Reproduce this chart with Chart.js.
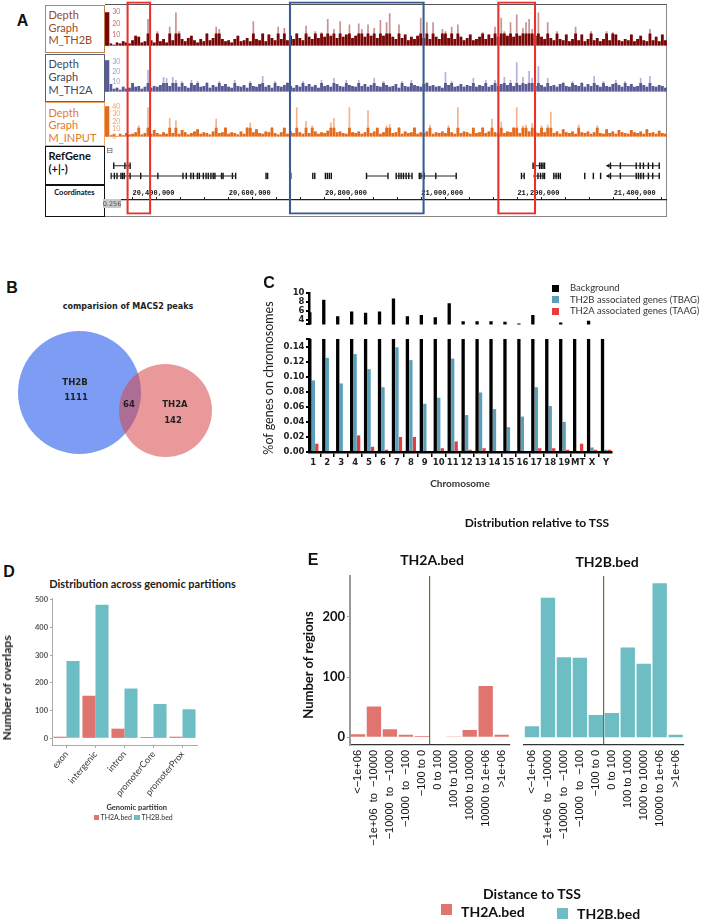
<!DOCTYPE html>
<html>
<head>
<meta charset="utf-8">
<script src="https://cdn.jsdelivr.net/npm/chart.js@4.4.1/dist/chart.umd.min.js"></script>
<style>
  body { margin: 0; background: #fff; }
  #fig { position: relative; width: 706px; height: 921px; overflow: hidden; background: #fff; }
  #fig canvas { position: absolute; }
</style>
</head>
<body>
<div id="fig"></div>
<script>
// ---------- Panel A: depth tracks (bins across the window) ----------
const th2bDepth = [
  2,1,3,2,4,3,2,5,9,8,3,4,24,5,3,13,4,6,3,17,
  5,30,13,6,4,7,9,5,3,6,4,11,5,7,17,15,6,4,5,3,
  6,9,4,5,7,4,22,6,5,11,4,10,7,5,17,6,16,5,9,6,
  11,7,5,18,8,6,13,7,12,8,24,9,15,7,22,8,10,19,7,9,
  20,15,8,19,9,16,7,23,9,21,29,8,6,19,7,10,5,8,6,9,
  25,7,21,6,21,8,6,15,13,7,17,6,19,8,5,7,10,5,6,8,
  12,6,10,7,17,8,25,13,9,21,8,28,9,16,21,24,15,9,30,8,
  6,21,7,5,13,6,5,10,4,6,17,5,10,4,6,13,5,7,4,6,
  13,5,12,10,5,4,6,5,10,4,6,9,5,4,15,5,8,4,10,5
];
const th2aDepth = [
  8,3,4,2,5,3,4,9,5,6,3,5,22,4,6,5,7,15,14,6,
  15,12,5,11,6,4,12,7,11,5,6,10,4,7,5,11,6,8,5,4,
  12,6,5,7,4,11,6,5,8,16,5,7,4,11,6,5,7,10,6,4,
  7,5,11,6,8,5,7,4,12,6,7,5,14,8,6,5,12,7,6,5,
  12,6,8,5,7,14,6,5,11,7,5,6,8,4,11,6,5,12,7,6,
  5,8,10,6,7,5,6,4,20,7,11,5,6,8,5,7,6,14,5,7,
  6,12,5,7,12,6,8,15,7,12,6,30,7,15,8,21,14,6,26,7,
  5,14,6,7,5,8,10,6,5,11,7,6,10,5,8,6,16,7,5,11,
  6,5,8,12,7,5,11,6,8,5,6,14,7,5,16,6,5,7,6,4
];
const inputDepth = [
  2,3,1,4,2,5,3,4,6,15,3,5,39,4,9,5,3,6,4,25,
  5,22,4,9,6,3,5,7,10,4,6,5,3,7,24,5,6,13,4,6,
  5,3,7,4,13,19,6,10,5,4,7,6,13,5,3,6,12,4,7,5,
  39,6,4,21,5,15,7,4,6,5,8,19,25,6,7,5,4,39,6,5,
  7,4,6,35,5,7,12,4,6,15,17,5,6,13,4,7,5,6,13,4,
  6,5,7,16,4,6,5,7,5,15,6,4,39,5,7,6,4,12,5,6,
  13,5,7,24,6,4,20,5,7,6,13,39,5,15,16,7,18,6,5,15,
  6,16,33,5,7,4,10,6,5,7,4,16,6,5,7,4,6,15,5,4,
  10,5,7,4,9,6,5,4,9,6,5,7,4,10,5,6,4,8,5,4
];
const th2bTicks = [10, 20, 30];
const th2aTicks = [10, 20, 30];
const inputTicks = [0, 10, 20, 30, 40];

// genomic window in kb
const windowStart = 20351.8;
const windowEnd = 21510.9;
const coordLabelStep = 200;

// RefGene models (kb), row 1 = upper line, row 2 = lower line
const geneStart = [20358.8, 21240.6, 21398.6, 20347.6, 20890.4, 20952.8, 21001.4, 21216.2, 21240.6, 21284.2, 21398.6];
const geneEnd   = [20393.3, 21264.7, 21507.4, 20615.2, 20935.5, 20986.0, 21079.0, 21221.9, 21264.7, 21298.0, 21507.4];
const geneRow   = [1, 1, 1, 2, 2, 2, 2, 2, 2, 2, 2];
const exonPos = [
  20358.8, 20382.3, 20387.9, 20393.3, 21240.6, 21254.3, 21257.8, 21261.4, 21264.7,
  21403.4, 21424.2, 21457.5, 21465.8, 21472.7, 21483.1, 21492.2, 21505.9,
  20353.2, 20360.1, 20365.7, 20374.0, 20377.5, 20380.9, 20393.3, 20415.6, 20451.6,
  20504.4, 20511.3, 20521.0, 20526.4, 20534.8, 20538.9, 20547.2, 20552.9, 20557.6,
  20563.2, 20568.0, 20571.6, 20585.5, 20588.8, 20608.4, 20615.2, 20679.1, 20682.4,
  20731.1, 20777.4, 20781.6, 20803.9, 20808.0, 20812.2, 20816.3, 20890.4, 20935.5,
  20952.8, 20958.4, 20963.2, 20968.1, 20973.6, 20979.2, 20986.0, 21001.4, 21004.8,
  21011.8, 21036.0, 21079.0, 21216.2, 21221.9, 21243.9, 21251.0, 21256.4, 21261.4,
  21264.7, 21284.2, 21289.0, 21293.8, 21298.0, 21349.3, 21367.4, 21382.6, 21403.4,
  21424.2, 21457.5, 21462.3, 21467.2, 21472.7, 21483.1, 21492.2, 21505.9
];
const exonRow = exonPos.map((p, i) => (i < 17 ? 1 : 2));
const strandPos = [21398.6, 21398.6];
const strandRow = [1, 2];

// highlighted regions (kb)
const roiStart = [20387.9, 20725.5, 21158.6];
const roiEnd   = [20438.5, 21006.8, 21238.5];
const roiColor = ['#e8312f', '#3b5b92', '#e8312f'];

// ---------- Panel B: Venn ----------
const vennSets = ['TH2B', 'TH2A'];
const vennOnly = [1111, 142];
const vennShared = 64;

// ---------- Panel C ----------
const chromosomes = ['1','2','3','4','5','6','7','8','9','10','11','12','13','14','15','16','17','18','19','MT','X','Y'];
const background = [5.7, 8.5, 4.8, 5.9, 5.6, 5.9, 8.8, 4.8, 5.1, 4.6, 7.7, 3.7, 3.7, 3.7, 3.6, 3.2, 5.1, 2.7, 3.4, 1.2, 3.8, 2.0];
const tbag = [0.095, 0.125, 0.091, 0.130, 0.110, 0.086, 0.139, 0.122, 0.064, 0.072, 0.124, 0.049, 0.079, 0.057, 0.033, 0.047, 0.086, 0.061, 0.040, 0, 0.006, 0.003];
const taag = [0.011, 0, 0, 0.022, 0.007, 0.003, 0.020, 0.020, 0, 0.005, 0.014, 0.003, 0.005, 0, 0, 0, 0.005, 0.005, 0.003, 0.011, 0.003, 0.003];
const upperTicks = [3, 4, 6, 8, 10];
const lowerTicks = [0, 0.02, 0.04, 0.06, 0.08, 0.10, 0.12, 0.14, 0.15];

// ---------- Panel D ----------
const partitions = ['exon', 'intergenic', 'intron', 'promoterCore', 'promoterProx'];
const partTH2A = [6, 154, 35, 5, 6];
const partTH2B = [279, 483, 180, 124, 105];
const partTicks = [0, 100, 200, 300, 400, 500];

// ---------- Panel E ----------
const tssBins = ['<\u22121e+06', '\u22121e+06  to  \u221210000', '\u221210000  to  \u22121000', '\u22121000  to  \u2212100', '\u2212100 to 0',
                 '0 to 100', '100 to 1000', '1000 to 10000', '10000 to 1e+06', '>1e+06'];
const tssTH2A = [5, 51, 13, 4, 2, 0, 1, 12, 85, 4];
const tssTH2B = [18, 232, 133, 132, 37, 40, 149, 122, 256, 4];
const tssTicks = [0, 100, 200];

const RED = '#e0746e';
const TEAL = '#6cbec4';

// ---------- helpers ----------
const fig = document.getElementById('fig');
Chart.defaults.font.family = "Lato, 'Open Sans', sans-serif";
Chart.defaults.color = '#333';
const common = {
  responsive: false, animation: false, devicePixelRatio: 1,
  plugins: { legend: { display: false }, tooltip: { enabled: false } }
};

function addCanvas(x, y, w, h) {
  const c = document.createElement('canvas');
  c.width = w; c.height = h;
  c.style.left = x + 'px'; c.style.top = y + 'px';
  c.style.width = w + 'px'; c.style.height = h + 'px';
  fig.appendChild(c);
  return c;
}
function label(text, x, y, font, color, align, rotate) {
  const d = document.createElement('div');
  d.textContent = text;
  let tf = align === 'left' ? 'translate(0,-50%)' : 'translate(-50%,-50%)';
  if (rotate) tf += ' rotate(' + rotate + 'deg)';
  d.style.cssText = 'position:absolute;z-index:6;left:' + x + 'px;top:' + y + 'px;font:' + font +
    ';color:' + color + ';white-space:pre;line-height:1;transform:' + tf + ';';
  fig.appendChild(d);
  return d;
}
function box(x, y, w, h, css) {
  const d = document.createElement('div');
  d.style.cssText = 'position:absolute;box-sizing:border-box;left:' + x + 'px;top:' + y + 'px;width:' + w + 'px;height:' + h + 'px;' + css;
  fig.appendChild(d);
  return d;
}
function swatch(cx, cy, s, color) {
  return box(cx - s / 2, cy - s / 2, s, s, 'background:' + color + ';');
}

// ================= Panel A =================
label('A', 22.5, 21, "bold 16px 'Liberation Sans', Arial, sans-serif", '#111');

box(45, 4.7, 60, 48.6, 'border:1px solid #c0814c;');
box(45, 54, 60, 47.7, 'border:1px solid #55607a;');
box(45, 101.7, 60, 44, 'border:1px solid #f0a868;');
box(45, 145.7, 60, 39.3, 'border:1.5px solid #111;');
box(45, 185, 60, 32.3, 'border:1.5px solid #111;');
box(105, 4, 562, 213.3, 'border-top:1.5px solid #555;border-right:1px solid #888;border-bottom:1px solid #888;');

const trackFont = "11px Lato, sans-serif";
[['Depth', 14], ['Graph', 26.7], ['M_TH2B', 39.3]].forEach(l => label(l[0], 48.5, l[1], trackFont, '#9a4a1c', 'left'));
[['Depth', 63.3], ['Graph', 76.3], ['M_TH2A', 89.3]].forEach(l => label(l[0], 48.5, l[1], trackFont, '#3d4860', 'left'));
[['Depth', 112], ['Graph', 124.3], ['M_INPUT', 136.7]].forEach(l => label(l[0], 48.5, l[1], trackFont, '#e27a2c', 'left'));
label('RefGene', 48.5, 155.3, "bold 11px Lato, sans-serif", '#111', 'left');
label('(+|-)', 48.5, 167.7, "bold 11px Lato, sans-serif", '#111', 'left');
label('Coordinates', 74.4, 192.7, "bold 7.5px Lato, sans-serif", '#111');
label('\u229f', 109.5, 150.7, "8px 'DejaVu Sans', sans-serif", '#444');

function depthTrack(top, height, values, yMax, tickList, dark, light, tickColor, cap) {
  const cv = addCanvas(105, top, 562, height);
  new Chart(cv, {
    type: 'bar',
    data: {
      labels: values.map((v, i) => i),
      datasets: [
        { data: values.map(v => Math.min(v, cap)), backgroundColor: dark, grouped: false, order: 0,
          barPercentage: 0.92, categoryPercentage: 1, clip: 0 },
        { data: values, backgroundColor: light, grouped: false, order: 1,
          barPercentage: 0.55, categoryPercentage: 1, clip: 0 }
      ]
    },
    options: Object.assign({}, common, {
      layout: { padding: 0 },
      scales: {
        x: { display: false },
        y: {
          min: 0, max: yMax, backgroundColor: dark,
          afterFit: s => { s.width = 4.3; },
          afterBuildTicks: s => { s.ticks = tickList.map(v => ({ value: v })); },
          grid: { display: false, drawTicks: false },
          border: { display: false },
          ticks: { mirror: true, autoSkip: false, padding: 3, color: tickColor, font: { size: 7 } }
        }
      }
    })
  });
}
depthTrack(5, 48, th2bDepth, 30, th2bTicks, '#7a0707', '#c99393', '#c46a6a', 11);
depthTrack(53, 46, th2aDepth, 32, th2aTicks, '#5a5a96', '#b4b4da', '#9a9ad0', 9);
depthTrack(99, 45, inputDepth, 40.5, inputTicks, '#e46a1c', '#f5b58a', '#f0a060', 12);

// RefGene track
(function () {
  const cv = addCanvas(105, 147, 562, 38);
  const ds = geneStart.map((s, i) => ({
    data: [{ x: s, y: geneRow[i] }, { x: geneEnd[i], y: geneRow[i] }],
    showLine: true, borderColor: '#222', borderWidth: 1, pointRadius: 0
  }));
  ds.push({
    data: exonPos.map((x, i) => ({ x: x, y: exonRow[i] })),
    pointStyle: 'line', pointRotation: 90, pointRadius: 3.2,
    pointBorderColor: '#111', pointBorderWidth: 1.4, pointBackgroundColor: '#111'
  });
  ds.push({
    data: strandPos.map((x, i) => ({ x: x, y: strandRow[i] })),
    pointStyle: 'triangle', pointRotation: -90, pointRadius: 2.4,
    pointBackgroundColor: '#111', pointBorderWidth: 0
  });
  new Chart(cv, {
    type: 'scatter',
    data: { datasets: ds },
    options: Object.assign({}, common, {
      layout: { padding: { left: 4.3, right: 0, top: 0, bottom: 0 } },
      scales: {
        x: { type: 'linear', min: windowStart, max: windowEnd, display: false },
        y: { type: 'linear', min: -0.3, max: 2.35, reverse: true, display: false }
      }
    })
  });
})();

// Coordinates axis
(function () {
  const cv = addCanvas(105, 186, 562, 26);
  new Chart(cv, {
    type: 'scatter',
    data: { datasets: [{ data: [] }] },
    options: Object.assign({}, common, {
      layout: { padding: { left: 4.3, right: 0, top: 0, bottom: 0 } },
      scales: {
        x: {
          type: 'linear', position: 'top', min: windowStart, max: windowEnd,
          afterFit: s => { s.height = 14; },
          grid: { drawOnChartArea: false, drawTicks: true, tickLength: 3, color: '#222' },
          border: { display: true, color: '#222', width: 1.2 },
          ticks: {
            stepSize: 50, includeBounds: false, autoSkip: false, maxRotation: 0, align: 'start', padding: 0,
            color: '#111', font: { family: "'Liberation Mono', monospace", size: 7, weight: 'bold' },
            callback: v => (Math.round(v) % coordLabelStep === 0 ? (Math.round(v) * 1000).toLocaleString('en-US') : '')
          }
        },
        y: { display: false, min: 0, max: 1 }
      }
    })
  });
})();
box(103, 199, 18, 9, 'background:#c9c9c9;');
label('0.256', 112, 203.5, "6.5px 'DejaVu Sans', sans-serif", '#555');

// region boxes over the tracks
(function () {
  const cv = addCanvas(105, 0, 562, 217);
  cv.style.zIndex = 5;
  new Chart(cv, {
    type: 'bar',
    data: {
      labels: ['roi'],
      datasets: roiStart.map((s, i) => ({
        data: [[s, roiEnd[i]]], backgroundColor: 'rgba(0,0,0,0)', borderColor: roiColor[i],
        borderWidth: 1.6, borderSkipped: false, grouped: false, barPercentage: 1, categoryPercentage: 1
      }))
    },
    options: Object.assign({}, common, {
      indexAxis: 'y',
      layout: { padding: { left: 4.3, right: 0, top: 1.5, bottom: 2.5 } },
      scales: {
        x: { type: 'linear', min: windowStart, max: windowEnd, display: false },
        y: { display: false }
      }
    })
  });
})();

// ================= Panel B =================
label('B', 12, 288.3, "bold 16px 'Liberation Sans', Arial, sans-serif", '#111');
label('comparision of MACS2 peaks', 128, 307, "bold 8px 'DejaVu Sans', sans-serif", '#222');
// each set drawn as a single full-circle pie; centre / radius are layout only
const vennCircles = [{ cx: 79, cy: 392.7, r: 61.7 }, { cx: 165.7, cy: 410, r: 46.7 }];
const vennFill = ['rgb(125,157,244)', 'rgba(215,70,70,0.55)'];
vennSets.forEach((name, i) => {
  const c = vennCircles[i];
  const s = Math.round(c.r * 2);
  new Chart(addCanvas(c.cx - s / 2, c.cy - s / 2, s, s), {
    type: 'pie',
    data: { labels: [name], datasets: [{ data: [vennOnly[i] + vennShared], backgroundColor: vennFill[i],
                                         borderWidth: 0, hoverOffset: 0, offset: 0 }] },
    options: Object.assign({}, common, { layout: { padding: 0 } })
  });
});
const vennFont = "bold 8.5px 'DejaVu Sans', sans-serif";
label(vennSets[0], 75, 382.3, vennFont, '#222');
label(String(vennOnly[0]), 76, 397.3, vennFont, '#222');
label(String(vennShared), 129, 404.3, vennFont, '#222');
label(vennSets[1], 175, 404.3, vennFont, '#222');
label(String(vennOnly[1]), 173, 420, vennFont, '#222');

// ================= Panel C =================
label('C', 269, 283.3, "bold 16px 'Liberation Sans', Arial, sans-serif", '#111');
label('%of genes on chromosomes', 268.5, 378, "12.5px Lato, sans-serif", '#222', 'center', -90);
label('Chromosome', 460, 482.7, "bold 10px Lato, sans-serif", '#333');

const cFont = { family: "'DejaVu Sans', sans-serif", size: 8.5, weight: 'bold' };
function chromDatasets() {
  return [
    { data: background.map((v, i) => ({ x: i, y: v })), backgroundColor: '#000' },
    { data: tbag.map((v, i) => ({ x: i, y: v })), backgroundColor: '#5b9fba' },
    { data: taag.map((v, i) => ({ x: i, y: v })), backgroundColor: '#e63c3c' }
  ].map(d => Object.assign(d, { barPercentage: 0.95, categoryPercentage: 0.75, clip: 0 }));
}
function chromX(show) {
  return {
    type: 'linear', min: -0.31, max: 21.43, display: show, offset: false,
    afterBuildTicks: s => { s.ticks = chromosomes.map((c, i) => ({ value: i })); },
    afterFit: s => { if (show) s.height = 23; },
    grid: { drawOnChartArea: false, drawTicks: true, tickLength: 5, color: '#000', lineWidth: 1.5 },
    border: { display: true, color: '#000', width: 2.5 },
    ticks: { autoSkip: false, maxRotation: 0, padding: 1, color: '#222', font: cFont,
             callback: v => chromosomes[v] !== undefined ? chromosomes[v] : '' }
  };
}
function chromY(min, max, tickList, fmt) {
  return {
    min: min, max: max,
    afterFit: s => { s.width = 49; },
    afterBuildTicks: s => { s.ticks = tickList.map(v => ({ value: v })); },
    grid: { drawOnChartArea: false, drawTicks: true, tickLength: 3, color: '#000', lineWidth: 2 },
    border: { display: true, color: '#000', width: 2.5 },
    ticks: { autoSkip: false, padding: 1.5, color: '#222', font: cFont, callback: fmt }
  };
}
new Chart(addCanvas(260, 283, 360, 48), {
  type: 'bar',
  data: { datasets: chromDatasets() },
  options: Object.assign({}, common, {
    layout: { padding: { top: 10, right: 8, bottom: 2, left: 0 } },
    scales: { x: chromX(false), y: chromY(3, 10, upperTicks, v => (v === 3 ? '' : String(v))) }
  })
});
new Chart(addCanvas(260, 330, 360, 145), {
  type: 'bar',
  data: { datasets: chromDatasets() },
  options: Object.assign({}, common, {
    layout: { padding: { top: 9, right: 8, bottom: 0, left: 0 } },
    scales: { x: chromX(true), y: chromY(0, 0.15, lowerTicks, v => (v === 0.15 ? '' : v.toFixed(2))) }
  })
});
const legC = [['Background', '#000', 288.3], ['TH2B associated genes (TBAG)', '#5b9fba', 299.6], ['TH2A associated genes (TAAG)', '#e63c3c', 311]];
legC.forEach(l => {
  swatch(555.5, l[2], 7, l[1]);
  label(l[0], 570, l[2], "9.5px Lato, sans-serif", '#333', 'left');
});

// ================= Panel D =================
label('D', 9, 572, "bold 16px 'Liberation Sans', Arial, sans-serif", '#111');
label('Distribution across genomic partitions', 142.5, 583, "bold 11px Lato, sans-serif", '#222');
label('Number of overlaps', 7, 688, "bold 12px Lato, sans-serif", '#222', 'center', -90);
new Chart(addCanvas(0, 590, 202, 215), {
  type: 'bar',
  data: {
    labels: partitions,
    datasets: [
      { label: 'TH2A.bed', data: partTH2A, backgroundColor: RED },
      { label: 'TH2B.bed', data: partTH2B, backgroundColor: TEAL }
    ].map(d => Object.assign(d, { categoryPercentage: 0.9, barPercentage: 1 }))
  },
  options: Object.assign({}, common, {
    layout: { padding: { top: 8, right: 5, bottom: 0, left: 0 } },
    scales: {
      x: {
        afterFit: s => { s.height = 60; },
        grid: { drawOnChartArea: false, drawTicks: true, tickLength: 3, color: '#aaa', offset: false },
        border: { display: true, color: '#aaa', width: 1 },
        ticks: { autoSkip: false, minRotation: 50, maxRotation: 50, padding: 1, color: '#333', font: { size: 9 } }
      },
      y: {
        min: -24, max: 507,
        afterFit: s => { s.width = 52; },
        afterBuildTicks: s => { s.ticks = partTicks.map(v => ({ value: v })); },
        grid: { drawOnChartArea: false, drawTicks: true, tickLength: 2, color: '#aaa' },
        border: { display: true, color: '#aaa', width: 1 },
        ticks: { autoSkip: false, padding: 2, color: '#555', font: { size: 7.5, weight: 'bold' } }
      }
    }
  })
});
label('Genomic partition', 136.7, 807.7, "bold 7.5px Lato, sans-serif", '#333');
swatch(96.5, 817.3, 5.5, RED);
label('TH2A.bed', 100.5, 817.3, "7px Lato, sans-serif", '#333', 'left');
swatch(137, 817.3, 5.5, TEAL);
label('TH2B.bed', 141.5, 817.3, "7px Lato, sans-serif", '#333', 'left');

// ================= Panel E =================
label('E', 313, 560, "bold 16px 'Liberation Sans', Arial, sans-serif", '#111');
label('Distribution relative to TSS', 537, 523, "bold 12px Lato, sans-serif", '#111');
label('TH2A.bed', 432, 560, "bold 14px Lato, sans-serif", '#111');
label('TH2B.bed', 607, 562, "bold 14px Lato, sans-serif", '#111');
label('Number of regions', 308, 665, "bold 13px Lato, sans-serif", '#111', 'center', -90);

const tssYMin = -13, tssYMax = 268;
// the TSS marker sits on the category boundary just before '0 to 100'
const tssLineIndex = tssBins.indexOf('0 to 100');
function tssFacet(x, w, values, color, showY, pad) {
  new Chart(addCanvas(x, 566, w, 294), {
    type: 'bar',
    data: {
      labels: tssBins,
      datasets: [{ data: values, backgroundColor: color, barPercentage: 0.9, categoryPercentage: 1 }]
    },
    options: Object.assign({}, common, {
      layout: { padding: pad },
      scales: {
        x: {
          afterFit: s => { s.height = 115; },
          grid: { display: true, offset: true, drawOnChartArea: true, drawTicks: false, lineWidth: 1.2,
                  color: c => (c.index === tssLineIndex ? '#4f7d3a' : 'rgba(0,0,0,0)') },
          border: { display: true, color: '#333', width: 1.3 },
          ticks: { autoSkip: false, minRotation: 90, maxRotation: 90, padding: 5, color: '#111',
                   font: { family: "'Liberation Sans', Arial, sans-serif", size: 11 } }
        },
        y: {
          min: tssYMin, max: tssYMax, display: showY,
          afterFit: s => { s.width = showY ? 50 : 0; },
          afterBuildTicks: s => { s.ticks = tssTicks.map(v => ({ value: v })); },
          grid: { drawOnChartArea: false, drawTicks: true, tickLength: 3, color: '#999' },
          border: { display: true, color: '#999', width: 2 },
          ticks: { autoSkip: false, padding: 2, color: '#111', font: { size: 13, weight: 'bold' } }
        }
      }
    })
  });
}
tssFacet(300, 220, tssTH2A, RED, true, { top: 10, right: 3, left: 0, bottom: 0 });
tssFacet(521, 173, tssTH2B, TEAL, false, { top: 10, right: 3, left: 3, bottom: 0 });

label('Distance to TSS', 532, 894, "bold 14px Lato, sans-serif", '#111');
swatch(446.5, 909.5, 11, RED);
label('TH2A.bed', 461, 912, "bold 14px Lato, sans-serif", '#111', 'left');
swatch(562, 913.5, 11, TEAL);
label('TH2B.bed', 577, 914, "bold 14px Lato, sans-serif", '#111', 'left');
</script>
</body>
</html>
